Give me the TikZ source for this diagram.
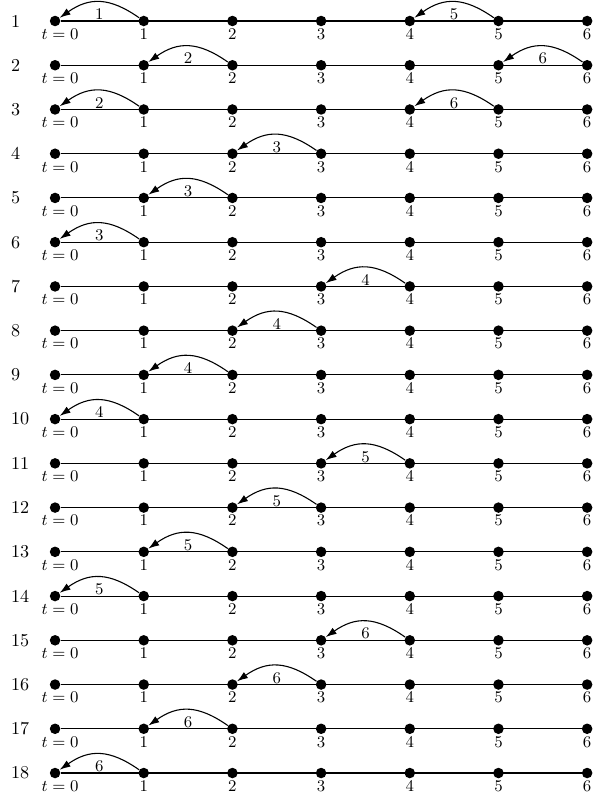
\documentclass[tikz,border=0pt]{standalone}
\usetikzlibrary{arrows.meta}

\begin{document}
\begin{tikzpicture}[
    x=1.718cm, y=0.857cm,
    dot/.style={circle, fill, inner sep=0pt, minimum size=5.8pt},
    axis/.style={draw, semithick},
    jump/.style={draw, semithick, -{Latex[length=6pt,width=4pt]}, bend right=35, looseness=1.17},
    tick/.style={font=\small, inner sep=1pt}
]
\useasboundingbox (-0.621,0.475) rectangle (6.06,-17.61);

% one time line per row
\foreach \r in {1,...,18} {
    \node[anchor=west, inner sep=0pt] (row\r) at (-0.5,1-\r) {\r};
    \node[dot, label={[tick, xshift=2.75pt]below:$t=0$}] (p\r-0) at (0,1-\r) {};
    \foreach \k in {1,...,6}
        \node[dot, label={[tick]below:$\k$}] (p\r-\k) at (\k,1-\r) {};
    \draw[axis] (p\r-0) -- (p\r-6);
}

% backward steps: row / from / label
\foreach \r/\k/\n in {1/1/1, 1/5/5, 2/2/2, 2/6/6, 3/1/2, 3/5/6, 4/3/3, 5/2/3, 6/1/3,
                      7/4/4, 8/3/4, 9/2/4, 10/1/4, 11/4/5, 12/3/5, 13/2/5, 14/1/5,
                      15/4/6, 16/3/6, 17/2/6, 18/1/6} {
    \pgfmathtruncatemacro\j{\k-1}
    \draw[jump] (p\r-\k) to node[midway, below, font=\small] {\n} (p\r-\j);
}

\end{tikzpicture}
\end{document}
